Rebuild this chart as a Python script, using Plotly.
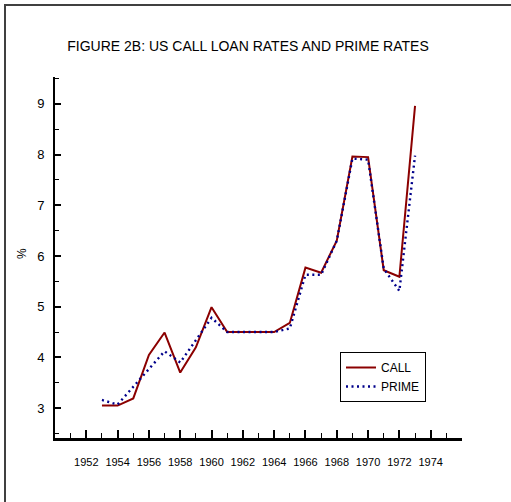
import plotly.graph_objects as go

years = list(range(1953, 1974))
call_rates = [3.05, 3.05, 3.19, 4.05, 4.49, 3.70, 4.20, 4.99, 4.50, 4.50, 4.50,
              4.50, 4.68, 5.77, 5.67, 6.30, 7.96, 7.95, 5.72, 5.59, 8.96]
prime_rates = [3.16, 3.07, 3.42, 3.77, 4.12, 3.90, 4.33, 4.78, 4.50, 4.50, 4.50,
               4.50, 4.57, 5.63, 5.63, 6.30, 7.92, 7.90, 5.75, 5.31, 7.98]
x_tick_years = list(range(1952, 1976, 2))
y_tick_vals = [3, 4, 5, 6, 7, 8, 9]

FONT = "Liberation Sans, Arial, sans-serif"

W, H = 511, 502
L, R, T, B = 55, 49, 77, 64
pw, ph = W - L - R, H - T - B

fig = go.Figure()
fig.add_trace(go.Scatter(x=years, y=call_rates, mode="lines", name="CALL",
                         line=dict(color="#8B0000", width=2)))
fig.add_trace(go.Scatter(x=years, y=prime_rates, mode="lines", name="PRIME",
                         line=dict(color="#00008B", width=2.4, dash="2px,3.5px")))

def px_x(p):
    return (p - L) / pw

def px_y(p):
    return (H - B - p) / ph

# outer frame (left and top edges visible)
fig.add_shape(type="line", xref="paper", yref="paper",
              x0=px_x(5), x1=px_x(600), y0=px_y(5), y1=px_y(5),
              line=dict(color="#404040", width=2))
fig.add_shape(type="line", xref="paper", yref="paper",
              x0=px_x(5), x1=px_x(5), y0=px_y(4), y1=px_y(600),
              line=dict(color="#404040", width=2))

fig.add_annotation(text="%", xref="paper", yref="paper", x=px_x(22), y=px_y(254),
                   xanchor="center", yanchor="middle",
                   showarrow=False, textangle=-90,
                   font=dict(family=FONT, size=12, color="#000"))

fig.update_layout(
    width=W, height=H,
    margin=dict(l=L, r=R, t=T, b=B),
    paper_bgcolor="white", plot_bgcolor="white",
    title=dict(text="FIGURE 2B: US CALL LOAN RATES AND PRIME RATES",
               x=248 / W, xanchor="center", xref="container",
               y=1 - 46 / H, yanchor="middle", yref="container",
               font=dict(family=FONT, size=14, color="#000")),
    showlegend=True,
    legend=dict(x=px_x(340), y=px_y(352), xanchor="left", yanchor="top",
                bgcolor="white", bordercolor="#000", borderwidth=1,
                font=dict(family=FONT, size=12, color="#000"),
                tracegroupgap=0),
    xaxis=dict(range=[1950, 1976], showgrid=False, zeroline=False,
               showline=True, linecolor="#000", linewidth=3,
               tickmode="array", tickvals=x_tick_years,
               ticks="inside", ticklen=8, tickwidth=2, tickcolor="#000",
               ticklabelstandoff=12,
               tickfont=dict(family=FONT, size=11, color="#000"),
               minor=dict(dtick=1, tick0=1950, ticks="inside", ticklen=5,
                          tickwidth=1, tickcolor="#000")),
    yaxis=dict(range=[2.41, 9.53], showgrid=False, zeroline=False,
               showline=True, linecolor="#000", linewidth=2,
               tickmode="array", tickvals=y_tick_vals,
               ticks="inside", ticklen=6, tickwidth=2, tickcolor="#000",
               ticklabelstandoff=6,
               tickfont=dict(family=FONT, size=13, color="#000"),
               minor=dict(dtick=0.5, tick0=2.5, ticks="inside", ticklen=4,
                          tickwidth=1, tickcolor="#000")),
)

fig.write_html("out.html",
               config={"displayModeBar": False},
               post_script="document.documentElement.style.overflow='hidden';"
                           "document.body.style.margin='0';"
                           "document.body.style.overflow='hidden';")
